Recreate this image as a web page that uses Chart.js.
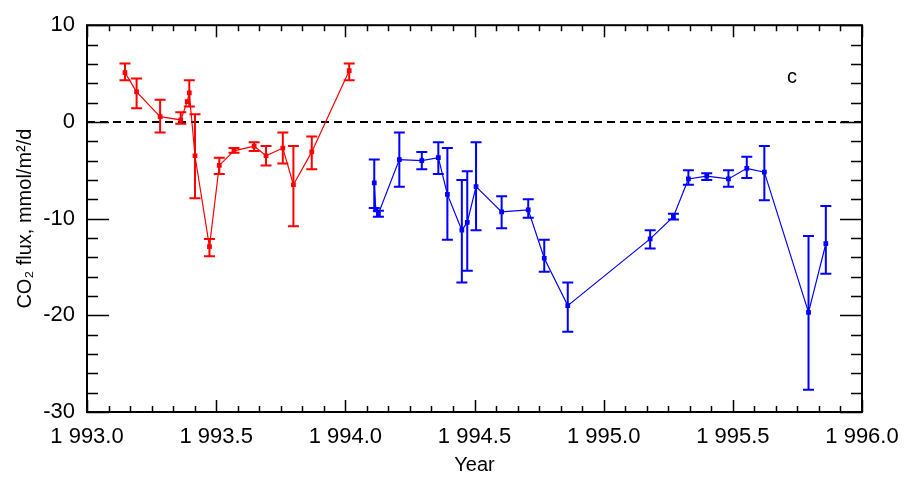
<!DOCTYPE html>
<html>
<head>
<meta charset="utf-8">
<script src="https://cdn.jsdelivr.net/npm/chart.js@4/dist/chart.umd.min.js"></script>
<style>
  body { margin: 0; background: #fff; }
  #wrap { width: 905px; height: 477px; }
</style>
</head>
<body>
<div id="wrap"><canvas id="grafico"></canvas></div>
<script>
// ===== DADOS: SÉRIE VERMELHA (1993) =====
const redYear = [1993.147, 1993.192, 1993.283, 1993.363, 1993.388, 1993.396, 1993.418, 1993.474,
  1993.512, 1993.569, 1993.647, 1993.693, 1993.758, 1993.799, 1993.870, 1994.015];
const redFlux = [5.1, 3.1, 0.55, 0.2, 2.1, 3.0, -3.5, -12.9, -4.5, -3.0, -2.5, -3.5, -2.7, -6.5, -3.1, 5.3];
const redLow  = [4.3, 1.4, -1.1, -0.2, null, 1.6, -7.9, -13.9, -5.4, -3.2, -3.0, -4.5, -4.3, -10.8, -4.9, 4.3];
const redHigh = [6.05, 4.5, 2.3, 1.0, null, 4.3, 0.8, -12.1, -3.7, -2.7, -2.1, -2.5, -1.1, -2.5, -1.5, 6.05];

// ===== DADOS: SÉRIE AZUL (1994-1995) =====
const blueYear = [1994.112, 1994.118, 1994.128, 1994.209, 1994.296, 1994.360, 1994.395, 1994.451,
  1994.472, 1994.506, 1994.605, 1994.708, 1994.770, 1994.861, 1995.180, 1995.270, 1995.328,
  1995.399, 1995.483, 1995.554, 1995.622, 1995.793, 1995.860];
const blueFlux = [-6.3, -9.1, -9.5, -3.9, -4.0, -3.7, -7.5, -11.2, -10.4, -6.7, -9.3, -9.1, -14.1,
  -19.0, -12.1, -9.8, -5.9, -5.6, -5.9, -4.8, -5.2, -19.7, -12.6];
const blueLow  = [-8.9, null, -9.8, -6.7, -4.9, -5.4, -12.2, -16.6, -15.4, -11.2, -11.0, -9.9, -15.5,
  -21.7, -13.1, -10.1, -6.5, -6.0, -6.7, -5.8, -8.1, -27.7, -15.7];
const blueHigh = [-3.9, null, -9.2, -1.1, -3.1, -2.1, -2.7, -6.0, -5.1, -2.1, -7.7, -8.0, -12.2,
  -16.6, -11.2, -9.5, -5.0, -5.3, -5.0, -3.6, -2.5, -11.8, -8.7];

// ===== EIXOS =====
const xMin = 1993, xMax = 1996, xStep = 0.5, xMinor = 1 / 12;
const yMin = -30, yMax = 10, yStep = 10, yMinor = 2;

const pontos = (xs, ys) => xs.map((x, i) => ({ x: x, y: ys[i] }));
const fmtAno = v => { const s = v.toFixed(1); return s.charAt(0) + " " + s.slice(1); };

// ===== PLUGIN: BARRAS DE ERRO =====
const barrasErro = {
  id: "barrasErro",
  afterDatasetsDraw(chart) {
    const ctx = chart.ctx;
    const x = chart.scales.x, y = chart.scales.y;
    const erros = [[redLow, redHigh], [blueLow, blueHigh]];
    chart.data.datasets.forEach((ds, d) => {
      const [lo, hi] = erros[d];
      ctx.save();
      ctx.strokeStyle = ds.borderColor;
      ctx.lineWidth = 2;
      ds.data.forEach((p, i) => {
        if (lo[i] === null) return;
        const px = x.getPixelForValue(p.x);
        const y1 = y.getPixelForValue(lo[i]), y2 = y.getPixelForValue(hi[i]);
        ctx.beginPath();
        ctx.moveTo(px, y1); ctx.lineTo(px, y2);
        ctx.moveTo(px - 5.5, y1); ctx.lineTo(px + 5.5, y1);
        ctx.moveTo(px - 5.5, y2); ctx.lineTo(px + 5.5, y2);
        ctx.stroke();
      });
      ctx.restore();
    });
  }
};

// ===== PLUGIN: MOLDURA, TRAÇOS E LINHA ZERO =====
const moldura = {
  id: "moldura",
  beforeDatasetsDraw(chart) {
    const ctx = chart.ctx, a = chart.chartArea;
    const y0 = chart.scales.y.getPixelForValue(0);
    ctx.save();
    ctx.strokeStyle = "#000";
    ctx.lineWidth = 2;
    ctx.setLineDash([8, 5]);
    ctx.beginPath();
    ctx.moveTo(a.left, y0); ctx.lineTo(a.right, y0);
    ctx.stroke();
    ctx.restore();
  },
  afterDraw(chart) {
    const ctx = chart.ctx, a = chart.chartArea;
    const x = chart.scales.x, y = chart.scales.y;
    ctx.save();
    ctx.strokeStyle = "#000";
    ctx.lineWidth = 1.5;
    ctx.beginPath();
    for (let k = 0; k <= Math.round((xMax - xMin) / xMinor); k++) {
      const v = xMin + k * xMinor;
      const len = (k % 6 === 0) ? 12 : 6;
      const px = Math.round(x.getPixelForValue(v)) + 0.5;
      ctx.moveTo(px, a.bottom); ctx.lineTo(px, a.bottom - len);
      ctx.moveTo(px, a.top); ctx.lineTo(px, a.top + len);
    }
    for (let v = yMin; v <= yMax; v += yMinor) {
      const len = (v % yStep === 0) ? 22 : 11;
      const py = Math.round(y.getPixelForValue(v)) + 0.5;
      ctx.moveTo(a.left, py); ctx.lineTo(a.left + len, py);
      ctx.moveTo(a.right, py); ctx.lineTo(a.right - len, py);
    }
    ctx.stroke();
    ctx.lineWidth = 2;
    ctx.strokeRect(a.left, a.top, a.right - a.left, a.bottom - a.top);
    ctx.fillStyle = "#000";
    ctx.font = "20px 'Liberation Sans', Arial, sans-serif";
    ctx.textAlign = "center";
    ctx.textBaseline = "middle";
    ctx.fillText("c", a.right - 70, a.top + 52);
    ctx.restore();
  }
};

// ===== GRÁFICO =====
const fonteTick = { family: "'Liberation Sans', Arial, sans-serif", size: 22 };
const fonteTitulo = { family: "'Liberation Sans', Arial, sans-serif", size: 20 };

new Chart(document.getElementById("grafico").getContext("2d"), {
  type: "line",
  data: {
    datasets: [{
      data: pontos(redYear, redFlux),
      borderColor: "#ff0000",
      backgroundColor: "#ff0000",
      borderWidth: 1.2,
      pointStyle: "rect",
      pointRadius: 2.5,
      tension: 0
    }, {
      data: pontos(blueYear, blueFlux),
      borderColor: "#0000ff",
      backgroundColor: "#0000ff",
      borderWidth: 1.2,
      pointStyle: "rect",
      pointRadius: 2.5,
      tension: 0
    }]
  },
  options: {
    responsive: true,
    maintainAspectRatio: false,
    animation: false,
    layout: { padding: { left: 10, right: 43, top: 24, bottom: 0 } },
    plugins: { legend: { display: false }, tooltip: { enabled: false } },
    scales: {
      x: {
        type: "linear",
        min: xMin, max: xMax,
        grid: { display: false, drawTicks: false },
        border: { display: false },
        ticks: { stepSize: xStep, color: "#000", font: fonteTick, padding: 12, maxRotation: 0, callback: fmtAno },
        title: { display: true, text: "Year", color: "#000", font: fonteTitulo, padding: { top: 3, bottom: 0 } },
        afterFit: scale => { scale.height = 65; scale.paddingLeft = 0; scale.paddingRight = 0; }
      },
      y: {
        min: yMin, max: yMax,
        grid: { display: false, drawTicks: false },
        border: { display: false },
        ticks: { stepSize: yStep, color: "#000", font: fonteTick, padding: 12 },
        title: { display: true, text: "CO\u2082 flux, mmol/m\u00b2/d", color: "#000", font: fonteTitulo, padding: { top: 3, bottom: 3 } },
        afterFit: scale => { scale.width = 77; }
      }
    }
  },
  plugins: [barrasErro, moldura]
});
</script>
</body>
</html>
